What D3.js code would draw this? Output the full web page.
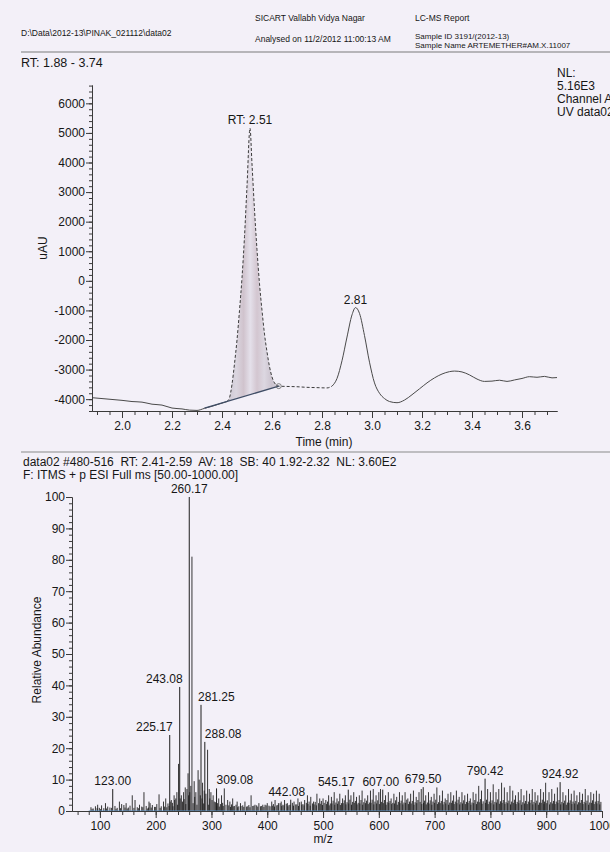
<!DOCTYPE html>
<html>
<head>
<meta charset="utf-8">
<script src="https://cdn.jsdelivr.net/npm/d3@7"></script>
<style>
body { margin: 0; background: #f3f0f8; }
svg { display: block; }
text { font-family: "Liberation Sans", Arial, sans-serif; fill: #161616; }
.axis path, .axis line { stroke: #3a3a3a; stroke-width: 1; }
.axis text { font-size: 12px; fill: #161616; }
.small { font-size: 8.5px; }
</style>
</head>
<body>
<script>
//wrap in an anonymous function so nothing ends up global
(function () {

    //chromatogram trace: retention time (min) and absorbance (uAU)
    var rtTime = [1.88, 1.92, 1.96, 2.00, 2.04, 2.08, 2.12, 2.16, 2.20, 2.24, 2.27, 2.30, 2.33, 2.36, 2.39, 2.42,
        2.43, 2.44, 2.45, 2.46, 2.47, 2.48, 2.49, 2.50, 2.512, 2.52, 2.53, 2.54, 2.55, 2.56, 2.57, 2.58, 2.59,
        2.60, 2.61, 2.627, 2.66, 2.70, 2.74, 2.78, 2.82, 2.84, 2.86, 2.88, 2.90, 2.92, 2.934, 2.95, 2.97, 2.99,
        3.01, 3.03, 3.05, 3.07, 3.10, 3.13, 3.16, 3.19, 3.22, 3.25, 3.28, 3.31, 3.33, 3.36, 3.39, 3.42, 3.45,
        3.48, 3.51, 3.54, 3.57, 3.60, 3.63, 3.66, 3.69, 3.72, 3.74];
    var rtUau = [-3950, -3980, -4010, -4040, -4080, -4100, -4170, -4200, -4300, -4330, -4370, -4380, -4310, -4240, -4160, -4080,
        -3950, -3500, -2800, -2000, -1000, 100, 1500, 3200, 5160, 3950, 2400, 1050, -100, -1000, -1800, -2400, -2900,
        -3250, -3450, -3560, -3570, -3580, -3600, -3610, -3620, -3560, -3300, -2700, -1900, -1150, -905, -1100, -1850, -2750,
        -3450, -3800, -3980, -4080, -4120, -4030, -3850, -3650, -3450, -3280, -3150, -3070, -3050, -3080, -3180, -3320, -3400,
        -3390, -3360, -3400, -3350, -3300, -3240, -3260, -3230, -3280, -3270];

    //integration baseline under the RT 2.51 peak
    var baseTime = [2.33, 2.627];
    var baseUau = [-4300, -3560];

    //peak labels of the chromatogram
    var rtLabelTime = [2.512, 2.934];
    var rtLabelUau = [5160, -905];
    var rtLabelText = ["RT: 2.51", "2.81"];

    //axis tick labels
    var uauTicks = [-4000, -3000, -2000, -1000, 0, 1000, 2000, 3000, 4000, 5000, 6000];
    var timeTicks = [2.0, 2.2, 2.4, 2.6, 2.8, 3.0, 3.2, 3.4, 3.6];
    var abundTicks = [0, 10, 20, 30, 40, 50, 60, 70, 80, 90, 100];
    var mzTicks = [100, 200, 300, 400, 500, 600, 700, 800, 900, 1000];

    //labelled peaks of the mass spectrum
    var peakMz = [123.00, 225.17, 243.08, 260.17, 281.25, 288.08, 309.08, 442.08, 545.17, 607.00, 679.50, 790.42, 924.92];
    var peakInt = [7.0, 24.2, 39.5, 100, 33.8, 22.0, 7.2, 3.6, 6.8, 6.8, 7.6, 10.3, 9.2];

    //unlabelled lines of the spectrum [m/z, relative abundance]
    var spikes = [[96, 2], [110, 2.5], [135, 3], [139, 2.2], [147, 2.5], [158, 5], [163, 3.5], [179, 6], [188, 3], [190, 2.5],
        [206, 5.3], [214, 3], [218, 4], [228, 3.5], [233, 5], [236, 4], [238, 6], [241, 15], [246, 5], [250, 6], [253, 7.5],
        [256, 7], [258, 12], [263, 8], [265, 81], [269, 9.5], [272, 6], [276, 13], [278, 10], [284, 9], [293, 19.5], [296, 7],
        [299, 6], [303, 5], [313, 4], [318, 5], [323, 7.2], [329, 3.5], [333, 3], [338, 4], [346, 3], [352, 2.5], [360, 3],
        [371, 5], [378, 2], [385, 2.5], [392, 2], [400, 2.5], [408, 3], [414, 3.5], [420, 2.5], [425, 3], [431, 3.5], [436, 2.5],
        [448, 3], [455, 4], [461, 3], [467, 3.5], [472, 5], [478, 4.5], [483, 3], [489, 5.5], [494, 4], [500, 4], [505, 3.5],
        [510, 5], [515, 4.5], [520, 6], [525, 4], [530, 5.5], [535, 4], [540, 5], [550, 5], [555, 6], [560, 4.5], [565, 5],
        [570, 6.5], [575, 4], [580, 5], [585, 6.5], [590, 7], [595, 5], [600, 6], [603, 7], [612, 5], [617, 6], [622, 4],
        [627, 5.5], [632, 4.5], [637, 6], [642, 5], [647, 6], [652, 4], [657, 5.5], [662, 6.5], [667, 4.5], [672, 6], [676, 7],
        [684, 5], [689, 6], [694, 4.5], [699, 5.5], [704, 7.5], [709, 5], [714, 6.5], [719, 4], [724, 5.5], [729, 6], [734, 5],
        [739, 6.5], [744, 4.5], [749, 6], [754, 5], [759, 5.5], [764, 4], [769, 6], [774, 5.5], [779, 8], [784, 6.5], [795, 7],
        [800, 6], [805, 8.5], [810, 6], [815, 7], [820, 9], [825, 7.5], [830, 6], [835, 8], [840, 6.5], [845, 5], [850, 6],
        [855, 7], [860, 5], [865, 6.5], [870, 5.5], [875, 7], [880, 6], [885, 5], [890, 7], [895, 6], [899, 9], [905, 6],
        [910, 7], [915, 5.5], [920, 7.5], [930, 6], [935, 5], [940, 7], [945, 5.5], [950, 6.5], [955, 5], [960, 6], [965, 5.5],
        [970, 7], [975, 5], [980, 6], [985, 5.5], [990, 6.5], [995, 5.5]];

    //low noise floor of the spectrum [m/z, relative abundance]
    var floorNoise = [[84, 1.2], [88, 0.8], [92, 1.5], [99, 1.0], [103, 1.8], [107, 0.9], [114, 1.4], [118, 1.1], [127, 1.6],
        [131, 1.0], [143, 1.9], [151, 1.1], [154, 1.7], [167, 1.2], [171, 2.0], [175, 1.4], [183, 1.6], [187, 1.1], [194, 1.9],
        [198, 1.3], [202, 2.2], [210, 1.5], [222, 2.4], [226, 3.0], [230, 2.6], [234, 3.5], [244, 4.0], [248, 3.0], [251, 3.8],
        [259, 5.0], [261, 6.0], [270, 4.5], [280, 5.0], [283, 4.0], [287, 6.5], [290, 5.5], [297, 4.0], [301, 3.5], [305, 3.0],
        [307, 2.8], [311, 2.5], [316, 2.2], [320, 2.6], [326, 2.0], [331, 1.8], [336, 2.1], [341, 1.6], [344, 2.0], [349, 1.5],
        [356, 1.8], [363, 1.4], [367, 1.9], [374, 1.6], [381, 1.8], [388, 1.5], [396, 2.0], [403, 1.7], [411, 2.2], [417, 1.8],
        [423, 2.5], [428, 2.0], [434, 2.3], [439, 1.9], [445, 2.6], [451, 2.1], [458, 2.8], [464, 2.2], [470, 2.6], [475, 3.0],
        [481, 2.4], [486, 2.9], [492, 2.5], [497, 3.2], [502, 2.6], [508, 3.0], [513, 2.4], [518, 3.3], [523, 2.7], [528, 3.1],
        [533, 2.5], [538, 3.4], [543, 2.8], [548, 3.6], [553, 2.9], [558, 3.2], [563, 2.6], [568, 3.5], [573, 2.8], [578, 3.3],
        [583, 2.7], [588, 3.6], [593, 3.0], [598, 3.4], [605, 2.9], [610, 3.5], [615, 2.8], [620, 3.2], [625, 2.6], [630, 3.4],
        [635, 2.9], [640, 3.3], [645, 2.7], [650, 3.6], [655, 3.0], [660, 3.2], [665, 2.8], [670, 3.5], [674, 2.9], [682, 3.3],
        [687, 2.7], [692, 3.4], [697, 3.0], [702, 3.6], [707, 2.8], [712, 3.2], [717, 2.9], [722, 3.5], [727, 2.7], [732, 3.3],
        [737, 3.0], [742, 3.6], [747, 2.8], [752, 3.4], [757, 2.9], [762, 3.2], [767, 2.7], [772, 3.5], [777, 3.0], [782, 3.8],
        [787, 3.1], [793, 3.6], [798, 3.0], [803, 3.4], [808, 2.9], [813, 3.7], [818, 3.1], [823, 3.5], [828, 2.8], [833, 3.3],
        [838, 3.0], [843, 3.6], [848, 2.9], [853, 3.4], [858, 2.8], [863, 3.2], [868, 3.0], [873, 3.5], [878, 2.9], [883, 3.3],
        [888, 2.7], [893, 3.6], [897, 3.0], [902, 3.4], [908, 2.8], [913, 3.2], [918, 3.0], [923, 3.5], [928, 2.9], [933, 3.3],
        [938, 2.7], [943, 3.4], [948, 3.0], [953, 3.2], [958, 2.8], [963, 3.5], [968, 2.9], [973, 3.3], [978, 2.7], [983, 3.4],
        [988, 3.0], [993, 3.2], [998, 2.9]];

    //finest noise lines between the others [m/z, relative abundance]
    var fineNoise = [[86, 0.7], [95, 0.9], [101, 0.6], [112, 0.8], [121, 1.0], [129, 0.7], [137, 0.9], [145, 1.1], [149, 0.8],
        [161, 1.0], [169, 0.9], [177, 1.2], [185, 0.8], [192, 1.1], [200, 1.3], [208, 1.0], [216, 1.4], [220, 1.2], [224, 1.6],
        [231, 1.5], [239, 2.0], [254, 2.2], [267, 2.5], [274, 2.0], [286, 2.4], [295, 2.0], [309.5, 1.5], [314, 1.4], [321, 1.6],
        [334, 1.3], [339, 1.5], [347, 1.2], [353, 1.6], [358, 1.3], [365, 1.5], [369, 1.2], [376, 1.7], [383, 1.4], [390, 1.6],
        [394, 1.3], [398, 1.8], [405, 1.5], [409, 1.7], [413, 1.4], [419, 1.9], [426, 1.6], [430, 1.8], [437, 1.5], [441, 2.0],
        [447, 1.7], [453, 2.1], [456, 1.6], [462, 2.0], [466, 1.8], [473, 2.2], [477, 1.7], [484, 2.1], [488, 1.8], [495, 2.3],
        [499, 1.9], [506, 2.2], [511, 1.8], [516, 2.4], [521, 2.0], [526, 2.3], [531, 1.9], [536, 2.5], [541, 2.1], [546, 2.4],
        [551, 2.0], [556, 2.6], [561, 2.1], [566, 2.4], [571, 2.0], [576, 2.5], [581, 2.2], [586, 2.6], [591, 2.1], [596, 2.4],
        [601, 2.2], [608, 2.5], [613, 2.0], [618, 2.6], [623, 2.2], [628, 2.4], [633, 2.0], [638, 2.5], [643, 2.1], [648, 2.6],
        [653, 2.2], [658, 2.4], [663, 2.0], [668, 2.5], [677, 2.2], [680, 2.6], [685, 2.1], [690, 2.4], [695, 2.0], [700, 2.6],
        [705, 2.2], [710, 2.5], [715, 2.1], [720, 2.4], [725, 2.0], [730, 2.6], [735, 2.2], [740, 2.5], [745, 2.1], [750, 2.4],
        [755, 2.2], [760, 2.6], [765, 2.0], [770, 2.5], [775, 2.2], [780, 2.8], [785, 2.3], [791, 2.6], [796, 2.2], [801, 2.5],
        [806, 2.1], [811, 2.7], [816, 2.3], [821, 2.6], [826, 2.2], [831, 2.5], [836, 2.1], [841, 2.6], [846, 2.2], [851, 2.5],
        [856, 2.0], [861, 2.4], [866, 2.2], [871, 2.6], [876, 2.1], [881, 2.5], [886, 2.0], [891, 2.6], [896, 2.2], [901, 2.5],
        [906, 2.1], [911, 2.4], [916, 2.2], [921, 2.6], [926, 2.1], [931, 2.5], [936, 2.0], [941, 2.6], [946, 2.2], [951, 2.4],
        [956, 2.1], [961, 2.6], [966, 2.2], [971, 2.5], [976, 2.0], [981, 2.6], [986, 2.2], [991, 2.4], [996, 2.1]];

    //where each spectrum label sits relative to its line
    var labelAnchor = { "225.17": "end", "243.08": "end", "281.25": "start", "288.08": "start", "309.08": "start" };
    var labelShift = { "225.17": 3, "243.08": 3, "281.25": -3, "288.08": 0, "309.08": 0, "442.08": -4, "545.17": -12, "607.00": -2 };

    var width = 610,
        height = 852;

    var svg = d3.select("body")
        .append("svg")
        .attr("width", width)
        .attr("height", height);

    //paper colour
    svg.append("rect")
        .attr("width", width)
        .attr("height", height)
        .attr("fill", "#f3f0f8");

    drawHeader();
    drawChromatogram();
    drawSpectrum();

    //report header text and rules
    function drawHeader() {
        var head = [
            ["D:\\Data\\2012-13\\PINAK_021112\\data02", 21, 36, 8.5],
            ["SICART Vallabh Vidya Nagar", 255, 21, 8.5],
            ["Analysed on 11/2/2012 11:00:13 AM", 255, 42, 8.5],
            ["LC-MS Report", 415, 21, 8.5],
            ["Sample ID 3191/(2012-13)", 415, 38.5, 8],
            ["Sample Name ARTEMETHER#AM.X.11007", 415, 48, 8]
        ];
        svg.selectAll(".head")
            .data(head)
            .enter()
            .append("text")
            .attr("class", "head")
            .attr("x", function (d) { return d[1]; })
            .attr("y", function (d) { return d[2]; })
            .style("font-size", function (d) { return d[3] + "px"; })
            .text(function (d) { return d[0]; });

        svg.append("line")
            .attr("x1", 21).attr("x2", width)
            .attr("y1", 52).attr("y2", 52)
            .attr("stroke", "#7a7a7a").attr("stroke-width", 1.2);

        svg.append("text")
            .attr("x", 21).attr("y", 67)
            .style("font-size", "12.5px")
            .text("RT: 1.88 - 3.74");

        //normalisation block at top right
        var nl = ["NL:", "5.16E3", "Channel A", "UV data02"];
        svg.selectAll(".nl")
            .data(nl)
            .enter()
            .append("text")
            .attr("class", "nl")
            .attr("x", 557)
            .attr("y", function (d, i) { return 77 + i * 13; })
            .style("font-size", "12px")
            .text(function (d) { return d; });

        svg.append("line")
            .attr("x1", 21).attr("x2", width)
            .attr("y1", 452).attr("y2", 452)
            .attr("stroke", "#8a8a8a").attr("stroke-width", 1.2);

        svg.append("text")
            .attr("x", 23).attr("y", 466)
            .style("font-size", "12px")
            .style("white-space", "pre")
            .text("data02 #480-516  RT: 2.41-2.59  AV: 18  SB: 40 1.92-2.32  NL: 3.60E2");

        svg.append("text")
            .attr("x", 23).attr("y", 479)
            .style("font-size", "12px")
            .text("F: ITMS + p ESI Full ms [50.00-1000.00]");
    }

    //UV chromatogram
    function drawChromatogram() {
        var x = d3.scaleLinear().domain([1.88, 3.74]).range([92, 557]);
        var y = d3.scaleLinear().domain([-4400, 6620]).range([411, 85]);

        var pts = rtTime.map(function (t, i) { return [t, rtUau[i]]; });

        //straight baseline as a scale so the area can sit on it
        var base = d3.scaleLinear().domain(baseTime).range(baseUau);

        //streaky grey fill of the integrated peak
        var grad = svg.append("defs").append("linearGradient")
            .attr("id", "peakFill");
        var stops = [["0%", "#cdc8d3"], ["18%", "#dad5df"], ["32%", "#d0c3cd"], ["45%", "#e4e0ea"],
            ["58%", "#d3c6d0"], ["72%", "#dcd7e1"], ["86%", "#ccc4cf"], ["100%", "#d6d1db"]];
        grad.selectAll("stop")
            .data(stops)
            .enter()
            .append("stop")
            .attr("offset", function (d) { return d[0]; })
            .attr("stop-color", function (d) { return d[1]; });

        var peakPts = pts.filter(function (d) { return d[0] >= 2.42 && d[0] <= baseTime[1]; });
        var area = d3.area()
            .curve(d3.curveMonotoneX)
            .x(function (d) { return x(d[0]); })
            .y0(function (d) { return y(base(d[0])); })
            .y1(function (d) { return y(d[1]); });

        svg.append("path")
            .datum(peakPts)
            .attr("d", area)
            .attr("fill", "url(#peakFill)");

        var line = d3.line()
            .curve(d3.curveMonotoneX)
            .x(function (d) { return x(d[0]); })
            .y(function (d) { return y(d[1]); });

        //solid trace before and after, dashed through the peak region
        svg.append("path")
            .datum(pts.filter(function (d) { return d[0] <= 2.42; }))
            .attr("d", line)
            .attr("fill", "none")
            .attr("stroke", "#4a4a4a")
            .attr("stroke-width", 1);

        svg.append("path")
            .datum(pts.filter(function (d) { return d[0] >= 2.42 && d[0] <= 2.84; }))
            .attr("d", line)
            .attr("fill", "none")
            .attr("stroke", "#3c3c3c")
            .attr("stroke-width", 1)
            .attr("stroke-dasharray", "3,2");

        svg.append("path")
            .datum(pts.filter(function (d) { return d[0] >= 2.84; }))
            .attr("d", line)
            .attr("fill", "none")
            .attr("stroke", "#4a4a4a")
            .attr("stroke-width", 1);

        //integration baseline
        svg.append("line")
            .attr("x1", x(baseTime[0])).attr("y1", y(baseUau[0]))
            .attr("x2", x(baseTime[1])).attr("y2", y(baseUau[1]))
            .attr("stroke", "#3f4d66")
            .attr("stroke-width", 1.3);

        svg.append("circle")
            .attr("cx", x(baseTime[1])).attr("cy", y(baseUau[1]))
            .attr("r", 2.5)
            .attr("fill", "none")
            .attr("stroke", "#666")
            .attr("stroke-width", 0.8);

        //peak labels
        svg.selectAll(".rtLabel")
            .data(rtLabelText)
            .enter()
            .append("text")
            .attr("class", "rtLabel")
            .attr("x", function (d, i) { return x(rtLabelTime[i]); })
            .attr("y", function (d, i) { return y(rtLabelUau[i]) - 4; })
            .attr("text-anchor", "middle")
            .style("font-size", "12px")
            .text(function (d) { return d; });

        //axes with minor ticks
        svg.append("g")
            .attr("class", "axis")
            .attr("transform", "translate(92,0)")
            .call(d3.axisLeft(y).tickValues(d3.range(-4400, 6601, 200)).tickSize(3).tickSizeOuter(0).tickFormat(""));
        svg.append("g")
            .attr("class", "axis")
            .attr("transform", "translate(92,0)")
            .call(d3.axisLeft(y).tickValues(uauTicks).tickSize(6).tickPadding(1).tickSizeOuter(0)
                .tickFormat(function (d) { return String(d); }));

        svg.append("g")
            .attr("class", "axis")
            .attr("transform", "translate(0,411)")
            .call(d3.axisBottom(x).tickValues(d3.range(1.9, 3.74, 0.05)).tickSize(4).tickSizeOuter(0).tickFormat(""));
        svg.append("g")
            .attr("class", "axis")
            .attr("transform", "translate(0,411)")
            .call(d3.axisBottom(x).tickValues(timeTicks).tickSize(7).tickPadding(3).tickSizeOuter(0)
                .tickFormat(d3.format(".1f")));

        svg.append("text")
            .attr("x", 324).attr("y", 446)
            .attr("text-anchor", "middle")
            .style("font-size", "12px")
            .text("Time (min)");

        svg.append("text")
            .attr("transform", "translate(47,248) rotate(-90)")
            .attr("text-anchor", "middle")
            .style("font-size", "12px")
            .text("uAU");
    }

    //mass spectrum
    function drawSpectrum() {
        var x = d3.scaleLinear().domain([50, 1000]).range([72, 602]);
        var y = d3.scaleLinear().domain([0, 100]).range([811, 497]);

        var all = fineNoise.concat(floorNoise, spikes);

        svg.selectAll(".noise")
            .data(all)
            .enter()
            .append("line")
            .attr("class", "noise")
            .attr("x1", function (d) { return x(d[0]); })
            .attr("x2", function (d) { return x(d[0]); })
            .attr("y1", y(0))
            .attr("y2", function (d) { return y(d[1]); })
            .attr("stroke", "#1f1f1f")
            .attr("stroke-width", 0.9);

        svg.selectAll(".peak")
            .data(peakMz)
            .enter()
            .append("line")
            .attr("class", "peak")
            .attr("x1", function (d) { return x(d); })
            .attr("x2", function (d) { return x(d); })
            .attr("y1", y(0))
            .attr("y2", function (d, i) { return y(peakInt[i]); })
            .attr("stroke", "#1e1e1e")
            .attr("stroke-width", 1);

        //blue-ish spectrum baseline
        svg.append("line")
            .attr("x1", x(80)).attr("x2", x(1000))
            .attr("y1", y(0)).attr("y2", y(0))
            .attr("stroke", "#5b93c9")
            .attr("stroke-width", 1.2);

        svg.selectAll(".peakLabel")
            .data(peakMz)
            .enter()
            .append("text")
            .attr("class", "peakLabel")
            .attr("x", function (d) { return x(d) + (labelShift[d.toFixed(2)] || 0); })
            .attr("y", function (d, i) { return y(peakInt[i]) - 4; })
            .attr("text-anchor", function (d) { return labelAnchor[d.toFixed(2)] || "middle"; })
            .style("font-size", "12px")
            .text(function (d) { return d.toFixed(2); });

        svg.append("g")
            .attr("class", "axis")
            .attr("transform", "translate(72,0)")
            .call(d3.axisLeft(y).tickValues(d3.range(0, 101, 2)).tickSize(3).tickSizeOuter(0).tickFormat(""));
        svg.append("g")
            .attr("class", "axis")
            .attr("transform", "translate(72,0)")
            .call(d3.axisLeft(y).tickValues(abundTicks).tickSize(6).tickPadding(1).tickSizeOuter(0));

        svg.append("g")
            .attr("class", "axis")
            .attr("transform", "translate(0,811)")
            .call(d3.axisBottom(x).tickValues(d3.range(60, 1001, 20)).tickSize(4).tickSizeOuter(0).tickFormat(""));
        svg.append("g")
            .attr("class", "axis")
            .attr("transform", "translate(0,811)")
            .call(d3.axisBottom(x).tickValues(mzTicks).tickSize(7).tickPadding(3).tickSizeOuter(0)
                .tickFormat(function (d) { return String(d); }));

        svg.append("text")
            .attr("x", x(500)).attr("y", 843)
            .attr("text-anchor", "middle")
            .style("font-size", "12px")
            .text("m/z");

        svg.append("text")
            .attr("transform", "translate(41,650) rotate(-90)")
            .attr("text-anchor", "middle")
            .style("font-size", "12px")
            .text("Relative Abundance");
    }

})();
</script>
</body>
</html>
